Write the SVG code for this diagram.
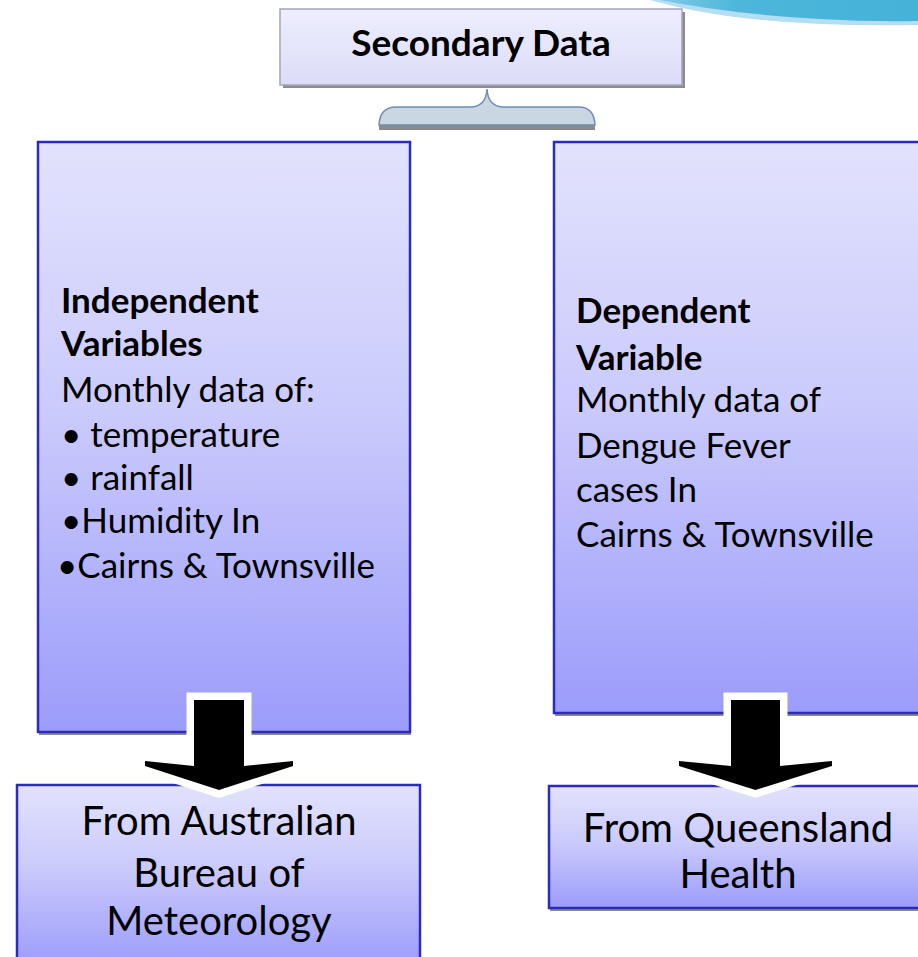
<svg xmlns="http://www.w3.org/2000/svg" width="918" height="957" viewBox="0 0 918 957">
  <defs>
    <linearGradient id="boxGrad" x1="0" y1="0" x2="0" y2="1">
      <stop offset="0" stop-color="#e2e2fd"/>
      <stop offset="0.45" stop-color="#cbcbfc"/>
      <stop offset="1" stop-color="#9c9cfb"/>
    </linearGradient>
    <linearGradient id="topGrad" x1="0" y1="0" x2="0" y2="1">
      <stop offset="0" stop-color="#eeeefe"/>
      <stop offset="1" stop-color="#dcdcf9"/>
    </linearGradient>
    <linearGradient id="swoosh" x1="0" y1="0" x2="1" y2="0">
      <stop offset="0" stop-color="#7fcbe6"/>
      <stop offset="0.3" stop-color="#4db6da"/>
      <stop offset="1" stop-color="#45b2d8"/>
    </linearGradient>
    <style>
      .box { fill: url(#boxGrad); stroke: #2b2bbf; stroke-width: 2.5; }
      .shadow { fill: #8c8c8c; }
      .txt { font-family: "Lato", "Liberation Sans", sans-serif; fill: #000; }
      .reg { font-size: 35px; }
      .bold { font-size: 35px; font-weight: bold; }
      .big { font-size: 40px; text-anchor: middle; }
      .arrowOutline { fill: #fff; stroke: #fff; stroke-width: 15; stroke-linejoin: miter; stroke-miterlimit: 2; }
      .arrowFill { fill: #000; }
    </style>
  </defs>

  <rect width="918" height="957" fill="#ffffff"/>

  <!-- decorative swoosh top right -->
  <g id="swoosh-deco">
    <path d="M 650 0 Q 720 20 820 24 Q 870 26 918 25 L 918 0 Z" fill="#b3def3"/>
    <path d="M 660 0 Q 730 14 820 19 Q 870 22 918 21 L 918 0 Z" fill="url(#swoosh)"/>
  </g>

  <!-- Secondary Data -->
  <g id="secondary-data">
    <rect x="283" y="12" width="402" height="76" class="shadow"/>
    <rect x="280" y="9" width="402" height="76" fill="url(#topGrad)" stroke="#a4a4c0" stroke-width="1.5"/>
    <text x="481" y="56" class="txt" font-weight="bold" font-size="37" text-anchor="middle">Secondary Data</text>
  </g>

  <!-- Brace -->
  <g id="brace">
    <rect x="379" y="124" width="216" height="6" fill="#8a8a8a"/>
    <path d="M 379 125 Q 380 107 396 107 L 470 107 Q 486 107 487 89 Q 488 107 504 107 L 579 107 Q 594 107 595 125 Z" fill="#cbd6e3" stroke="#6e8fb4" stroke-width="1.5"/>
  </g>

  <!-- Independent Variables box -->
  <g id="independent">
    <rect x="39" y="145" width="372" height="590" class="shadow"/>
    <rect x="38" y="142" width="372" height="590" class="box"/>
    <text class="txt bold" x="61" y="313">Independent</text>
    <text class="txt bold" x="61" y="356">Variables</text>
    <text class="txt reg" x="61" y="402">Monthly data of:</text>
    <text class="txt reg" x="61" y="447">• temperature</text>
    <text class="txt reg" x="61" y="490">• rainfall</text>
    <text class="txt reg" x="61" y="533">•Humidity In</text>
    <text class="txt reg" x="57" y="578">•Cairns &amp; Townsville</text>
  </g>

  <!-- Dependent Variable box -->
  <g id="dependent">
    <rect x="555" y="145" width="380" height="571" class="shadow"/>
    <rect x="554" y="142" width="380" height="571" class="box"/>
    <text class="txt bold" x="576" y="323">Dependent</text>
    <text class="txt bold" x="576" y="370">Variable</text>
    <text class="txt reg" x="576" y="412">Monthly data of</text>
    <text class="txt reg" x="576" y="458">Dengue Fever</text>
    <text class="txt reg" x="576" y="502">cases In</text>
    <text class="txt reg" x="576" y="547">Cairns &amp; Townsville</text>
  </g>

  <!-- Source boxes -->
  <g id="bureau">
    <rect x="18" y="788" width="403" height="180" class="shadow"/>
    <rect x="17" y="785" width="403" height="180" class="box"/>
    <text class="txt big" x="219" y="835">From Australian</text>
    <text class="txt big" x="219" y="887">Bureau of</text>
    <text class="txt big" x="219" y="935">Meteorology</text>
  </g>

  <g id="queensland">
    <rect x="550" y="789" width="390" height="122" class="shadow"/>
    <rect x="549" y="786" width="390" height="122" class="box"/>
    <text class="txt big" x="738" y="842" font-size="39">From Queensland</text>
    <text class="txt big" x="738" y="888" font-size="39">Health</text>
  </g>

  <!-- connectors -->
  <g id="connectors">
    <g id="arrow-left">
      <polygon class="arrowOutline" points="194,700 244,700 244,766 293,761 293,766 219,790 145,766 145,761 194,766"/>
      <polygon class="arrowFill" points="194,700 244,700 244,766 293,761 293,766 219,790 145,766 145,761 194,766"/>
    </g>
    <g id="arrow-right">
      <polygon class="arrowOutline" points="731,700 780,700 780,766 832,761 832,766 755.5,790 679,766 679,761 731,766"/>
      <polygon class="arrowFill" points="731,700 780,700 780,766 832,761 832,766 755.5,790 679,766 679,761 731,766"/>
    </g>
  </g>
</svg>
